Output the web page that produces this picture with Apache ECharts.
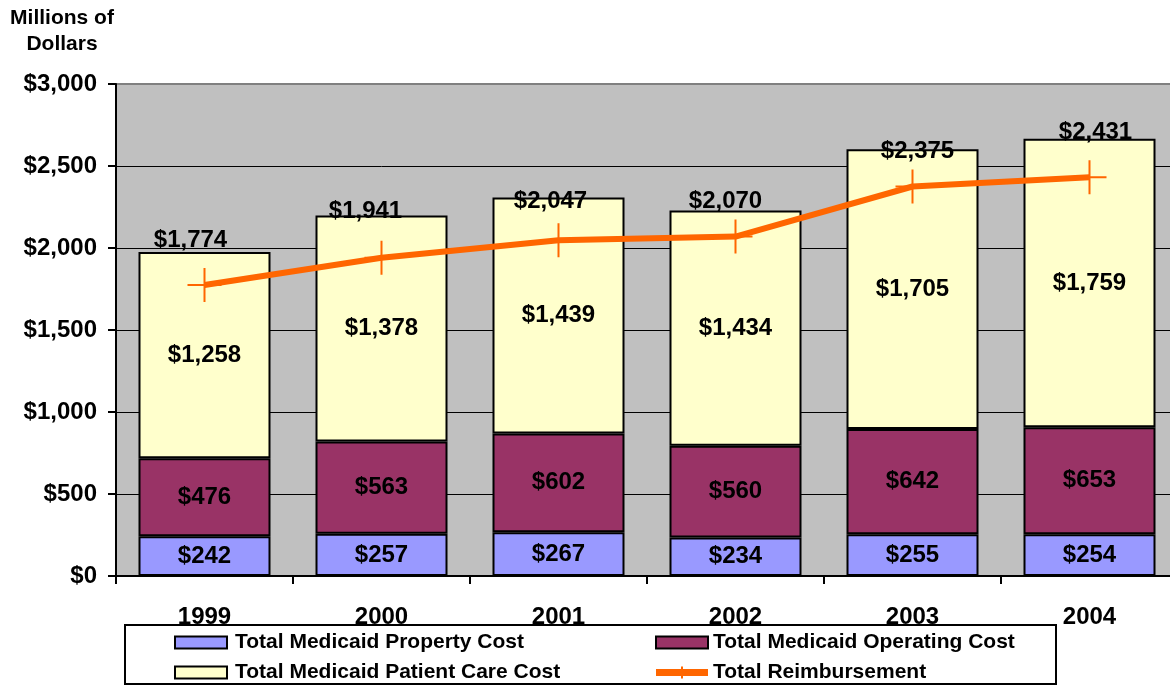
<!DOCTYPE html>
<html><head><meta charset="utf-8">
<script src="https://cdn.jsdelivr.net/npm/echarts@6/dist/echarts.min.js"></script>
<style>html,body{margin:0;padding:0;background:#fff;overflow:hidden}#c{width:1180px;height:685px}</style>
</head><body><div id="c"></div>
<script>
const years = ['1999','2000','2001','2002','2003','2004'];
const propertyCost = [242,257,267,234,255,254];
const operatingCost = [476,563,602,560,642,653];
const patientCareCost = [1258,1378,1439,1434,1705,1759];
const totalReimbursement = [1774,1941,2047,2070,2375,2431];
const yTicks = [0,500,1000,1500,2000,2500,3000];

// label placement style for the reimbursement labels (pixel offsets from the point)
const reimbLabelOffsets = [[-14,-45],[-16,-46],[-8,-39],[-10,-35],[5,-35],[6,-45]];

const FONT = '"Liberation Sans", Arial, sans-serif';
const fmt = v => '$' + Number(v).toLocaleString('en-US');
const chart = echarts.init(document.getElementById('c'), null, {renderer:'canvas'});
const barLabel = {show:true, position:'inside', formatter:p=>fmt(p.value), color:'#000', fontFamily:FONT, fontWeight:'bold', fontSize:24};
const barBase = {type:'bar', stack:'t', barWidth:132, label:barLabel};
const plusPath = 'path://M-1,-17L1,-17L1,17L-1,17Z M-17,-1L17,-1L17,1L-17,1Z';
const legendLineIcon = 'path://M0,-3.5L52,-3.5L52,3.5L0,3.5Z M25,-6L27,-6L27,6L25,6Z';
const legendText = {fontFamily:FONT, fontWeight:'bold', fontSize:21, color:'#000'};
chart.setOption({
  animation:false,
  textStyle:{fontFamily:FONT},
  grid:{left:116, top:84, right:2, bottom:109, show:true, backgroundColor:'#C0C0C0', borderColor:'#808080', borderWidth:2},
  title:{text:'Millions of\nDollars', left:62, top:5, padding:0, textAlign:'center',
    textStyle:{fontFamily:FONT, fontWeight:'bold', fontSize:21, lineHeight:26, color:'#000'}},
  xAxis:{type:'category', data:years,
    axisLine:{lineStyle:{color:'#000', width:2}},
    axisTick:{show:true, length:8, lineStyle:{color:'#000', width:2}, alignWithLabel:false},
    axisLabel:{color:'#000', fontFamily:FONT, fontWeight:'bold', fontSize:24, margin:29}},
  yAxis:{type:'value', min:0, max:3000, interval:500,
    axisLine:{show:true, lineStyle:{color:'#000', width:2}},
    axisTick:{show:true, length:8, lineStyle:{color:'#000', width:2}},
    axisLabel:{color:'#000', fontFamily:FONT, fontWeight:'bold', fontSize:24, margin:19, formatter:v=>fmt(v)},
    splitLine:{show:true, lineStyle:{color:['#000','#000','#000','#000','#000','#000','#808080'], width:1}}},
  legend:[
    {left:174, top:632, padding:0, orient:'vertical', itemGap:9, itemWidth:52, itemHeight:12,
     data:[{name:'Total Medicaid Property Cost', icon:'rect'},{name:'Total Medicaid Patient Care Cost', icon:'rect'}],
     textStyle:Object.assign({padding:[0,0,0,3]}, legendText)},
    {left:655, top:632, padding:0, orient:'vertical', itemGap:9, itemWidth:52, itemHeight:12,
     data:[{name:'Total Medicaid Operating Cost', icon:'rect'},
           {name:'Total Reimbursement', icon:legendLineIcon, itemStyle:{color:'#FF6600', borderWidth:0}}],
     textStyle:legendText}
  ],
  graphic:[{type:'rect', left:124, top:624, shape:{width:931, height:59}, style:{fill:'#fff', stroke:'#000', lineWidth:2}, z:-1}],
  series:[
    Object.assign({}, barBase, {name:'Total Medicaid Property Cost', data:propertyCost,
      itemStyle:{color:'#9999FF', borderColor:'#000', borderWidth:2}}),
    Object.assign({}, barBase, {name:'Total Medicaid Operating Cost', data:operatingCost,
      itemStyle:{color:'#993366', borderColor:'#000', borderWidth:2}}),
    Object.assign({}, barBase, {name:'Total Medicaid Patient Care Cost', data:patientCareCost,
      itemStyle:{color:'#FFFFCC', borderColor:'#000', borderWidth:2}}),
    {type:'line', name:'Total Reimbursement', z:5,
      data:totalReimbursement.map((v,i)=>({value:v, label:{offset:reimbLabelOffsets[i]}})),
      symbol:plusPath, symbolSize:34, showAllSymbol:true,
      lineStyle:{color:'#FF6600', width:6},
      itemStyle:{color:'#FF6600'},
      label:{show:true, position:'inside', formatter:p=>fmt(p.value),
        color:'#000', fontFamily:FONT, fontSize:24, fontWeight:'bold'}}
  ]
});
</script></body></html>
